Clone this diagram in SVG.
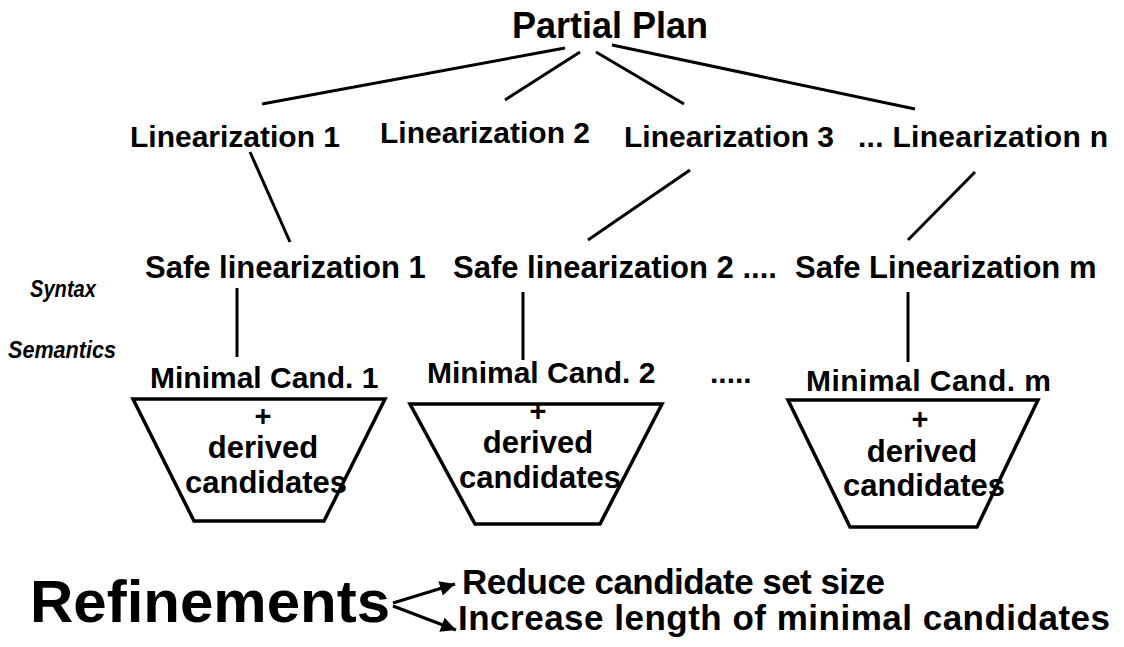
<svg xmlns="http://www.w3.org/2000/svg" width="1124" height="647" viewBox="0 0 1124 647">
  <defs>
    <style>
      text { font-family: "Liberation Sans", Arial, sans-serif; font-weight: bold; fill: #000; }
      .lbl { font-size: 30px; }
      .safe { font-size: 31px; }
      .cand { font-size: 30px; }
      .inner { font-size: 31px; text-anchor: middle; }
      .plus { font-size: 29px; text-anchor: middle; }
      .side { font-size: 24px; font-style: italic; }
      .edge { stroke: #000; stroke-width: 3; fill: none; stroke-linecap: butt; }
      .trap { stroke: #000; stroke-width: 3.5; fill: none; stroke-linejoin: miter; }
    </style>
    <marker id="head" viewBox="0 0 10 10" refX="10" refY="5" markerWidth="7" markerHeight="5" markerUnits="strokeWidth" orient="auto">
      <path d="M0,0 L10,5 L0,10 Z" fill="#000"/>
    </marker>
  </defs>

  <rect width="1124" height="647" fill="#fff"/>

  <!-- tree edges -->
  <g id="connectors">
    <line class="edge" x1="565" y1="48" x2="262" y2="104"/>
    <line class="edge" x1="580" y1="52" x2="505" y2="100"/>
    <line class="edge" x1="596" y1="52" x2="684" y2="104"/>
    <line class="edge" x1="612" y1="45" x2="915" y2="109"/>
    <line class="edge" x1="250" y1="152" x2="290" y2="242"/>
    <line class="edge" x1="690" y1="170" x2="588" y2="240"/>
    <line class="edge" x1="975" y1="172" x2="908" y2="240"/>
    <line class="edge" x1="237" y1="288" x2="237" y2="357"/>
    <line class="edge" x1="523" y1="292" x2="523" y2="360"/>
    <line class="edge" x1="908" y1="292" x2="908" y2="362"/>
    <line class="edge" x1="393" y1="603" x2="455" y2="584" marker-end="url(#head)"/>
    <line class="edge" x1="393" y1="606" x2="456" y2="630" marker-end="url(#head)"/>
  </g>

  <g id="partial-plan">
    <text x="610" y="38" font-size="36" text-anchor="middle">Partial Plan</text>
  </g>

  <g id="linearization-1"><text class="lbl" x="130" y="147">Linearization 1</text></g>
  <g id="linearization-2"><text class="lbl" x="380" y="143" font-size="31">Linearization 2</text></g>
  <g id="linearization-3"><text class="lbl" x="624" y="147">Linearization 3</text></g>
  <g id="linearization-n"><text class="lbl" x="858" y="147" textLength="250">... Linearization n</text></g>

  <g id="safe-1"><text class="safe" x="145" y="278">Safe linearization 1</text></g>
  <g id="safe-2"><text class="safe" x="453" y="278">Safe linearization 2 ....</text></g>
  <g id="safe-m"><text class="safe" x="795" y="278">Safe Linearization m</text></g>

  <g id="level-labels">
    <text class="side" x="30" y="297" textLength="66" lengthAdjust="spacingAndGlyphs">Syntax</text>
    <text class="side" x="8" y="358" textLength="108" lengthAdjust="spacingAndGlyphs">Semantics</text>
  </g>

  <g id="candidates-1">
    <text class="cand" x="150" y="388">Minimal Cand. 1</text>
    <polygon class="trap" points="133,399 385,399 324,521 194,521"/>
    <text class="plus" x="263" y="426">+</text>
    <text class="inner" x="263" y="458">derived</text>
    <text class="inner" x="266" y="493">candidates</text>
  </g>

  <g id="candidates-2">
    <text class="cand" x="427" y="383">Minimal Cand. 2</text>
    <polygon class="trap" points="410,404 662,404 600,524 475,524"/>
    <text class="plus" x="538" y="421">+</text>
    <text class="inner" x="538" y="453">derived</text>
    <text class="inner" x="540" y="488">candidates</text>
  </g>

  <g id="ellipsis">
    <text class="cand" x="710" y="383">.....</text>
  </g>

  <g id="candidates-m">
    <text class="cand" x="806" y="391" textLength="245">Minimal Cand. m</text>
    <polygon class="trap" points="788,400 1038,400 977,527 850,527"/>
    <text class="plus" x="920" y="429">+</text>
    <text class="inner" x="922" y="462">derived</text>
    <text class="inner" x="924" y="496">candidates</text>
  </g>

  <g id="refinements">
    <text x="30" y="622" font-size="60">Refinements</text>
  </g>
  <g id="reduce"><text x="462" y="594" font-size="35" textLength="423">Reduce candidate set size</text></g>
  <g id="increase"><text x="458" y="630" font-size="35" textLength="652">Increase length of minimal candidates</text></g>
</svg>
